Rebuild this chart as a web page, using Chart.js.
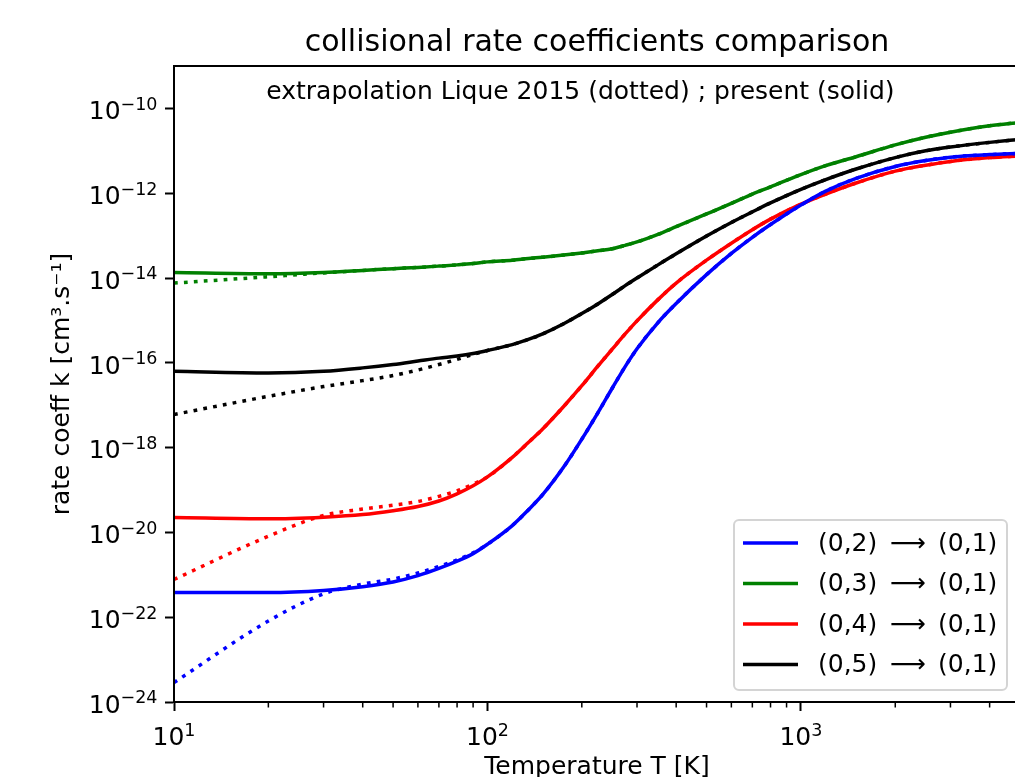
<!DOCTYPE html>
<html><head><meta charset="utf-8">
<script src="https://cdn.jsdelivr.net/npm/chart.js@4.4.0/dist/chart.umd.min.js"></script>
<style>
html,body{margin:0;padding:0;background:#fff;overflow:hidden;}
#wrap{width:1040px;height:777px;}
</style></head><body>
<div id="wrap"><canvas id="c" width="1040" height="777" style="width:1040px;height:777px"></canvas></div>
<script>
// Temperature grid [K]
const temperatures = [10,20,30,40,50,60,70,80,90,100,120,135,150,175,200,225,250,275,300,350,400,500,600,700,800,1000,1200,1500,2000,2500,3000,4000,5000];

// present (solid) rate coefficients [cm3 s-1]
const k02present = [3.80e-22,3.80e-22,4.27e-22,5.25e-22,6.76e-22,9.55e-22,1.41e-21,2.09e-21,3.16e-21,5.25e-21,1.45e-20,3.39e-20,7.76e-20,3.47e-19,1.58e-18,6.61e-18,2.51e-17,8.13e-17,2.14e-16,8.91e-16,2.51e-15,1.20e-14,3.80e-14,9.12e-14,1.82e-13,5.25e-13,1.12e-12,2.24e-12,4.27e-12,5.89e-12,7.08e-12,8.13e-12,8.71e-12];
const k03present = [1.35e-14,1.26e-14,1.35e-14,1.51e-14,1.66e-14,1.78e-14,1.91e-14,2.04e-14,2.19e-14,2.40e-14,2.63e-14,2.88e-14,3.09e-14,3.47e-14,3.89e-14,4.37e-14,4.90e-14,5.89e-14,7.08e-14,1.07e-13,1.62e-13,3.24e-13,5.75e-13,9.55e-13,1.41e-12,2.75e-12,4.47e-12,7.24e-12,1.38e-11,2.09e-11,2.75e-11,3.89e-11,4.68e-11];
const k04present = [2.24e-20,2.09e-20,2.29e-20,2.63e-20,3.24e-20,4.07e-20,5.50e-20,8.13e-20,1.26e-19,2.04e-19,5.89e-19,1.32e-18,2.75e-18,9.33e-18,2.88e-17,8.32e-17,2.09e-16,4.79e-16,9.77e-16,3.09e-15,7.59e-15,2.63e-14,6.61e-14,1.38e-13,2.45e-13,5.50e-13,9.55e-13,1.74e-12,3.31e-12,4.57e-12,5.62e-12,6.92e-12,7.59e-12];
const k05present = [6.31e-17,5.75e-17,6.31e-17,7.59e-17,9.12e-17,1.10e-16,1.29e-16,1.45e-16,1.66e-16,1.95e-16,2.69e-16,3.55e-16,4.79e-16,8.32e-16,1.45e-15,2.45e-15,4.07e-15,6.61e-15,1.00e-14,2.04e-14,3.72e-14,9.77e-14,2.04e-13,3.63e-13,5.89e-13,1.23e-12,2.09e-12,3.72e-12,6.92e-12,1.00e-11,1.23e-11,1.58e-11,1.86e-11];

// extrapolation Lique 2015 (dotted)
const k02lique = [2.88e-24,8.13e-23,3.55e-22,6.03e-22,7.94e-22,1.10e-21,1.58e-21,2.24e-21,3.31e-21,5.25e-21,1.45e-20,3.39e-20,7.76e-20,3.47e-19,1.58e-18,6.61e-18,2.51e-17,8.13e-17,2.14e-16,8.91e-16,2.51e-15,1.20e-14,3.80e-14,9.12e-14,1.82e-13,5.25e-13,1.12e-12,2.24e-12,4.27e-12,5.89e-12,7.08e-12,8.13e-12,8.71e-12];
const k03lique = [7.59e-15,1.07e-14,1.32e-14,1.51e-14,1.66e-14,1.78e-14,1.91e-14,2.04e-14,2.19e-14,2.40e-14,2.63e-14,2.88e-14,3.09e-14,3.47e-14,3.89e-14,4.37e-14,4.90e-14,5.89e-14,7.08e-14,1.07e-13,1.62e-13,3.24e-13,5.75e-13,9.55e-13,1.41e-12,2.75e-12,4.47e-12,7.24e-12,1.38e-11,2.09e-11,2.75e-11,3.89e-11,4.68e-11];
const k04lique = [7.76e-22,8.13e-21,2.51e-20,3.55e-20,4.37e-20,5.37e-20,7.08e-20,9.55e-20,1.38e-19,2.04e-19,5.89e-19,1.32e-18,2.75e-18,9.33e-18,2.88e-17,8.32e-17,2.09e-16,4.79e-16,9.77e-16,3.09e-15,7.59e-15,2.63e-14,6.61e-14,1.38e-13,2.45e-13,5.50e-13,9.55e-13,1.74e-12,3.31e-12,4.57e-12,5.62e-12,6.92e-12,7.59e-12];
const k05lique = [6.03e-18,1.62e-17,2.75e-17,3.80e-17,5.01e-17,6.76e-17,9.12e-17,1.20e-16,1.58e-16,1.95e-16,2.69e-16,3.55e-16,4.79e-16,8.32e-16,1.45e-15,2.45e-15,4.07e-15,6.61e-15,1.00e-14,2.04e-14,3.72e-14,9.77e-14,2.04e-13,3.63e-13,5.89e-13,1.23e-12,2.09e-12,3.72e-12,6.92e-12,1.00e-11,1.23e-11,1.58e-11,1.86e-11];

const seriesLabels = ['(0,2)\u2002\u27F6\u2002(0,1)','(0,3)\u2002\u27F6\u2002(0,1)','(0,4)\u2002\u27F6\u2002(0,1)','(0,5)\u2002\u27F6\u2002(0,1)'];
const seriesColors = ['#0000ff','#008000','#ff0000','#000000'];

// tick labels: base "10" with exponent
const xTickValues = [10,100,1000];
const xTickExponents = ['1','2','3'];
const xMinorTickValues = [20,30,40,50,60,70,80,90,200,300,400,500,600,700,800,900,2000,3000,4000,5000];
const yTickValues = [1e-24,1e-22,1e-20,1e-18,1e-16,1e-14,1e-12,1e-10];
const yTickExponents = ['\u221224','\u221222','\u221220','\u221218','\u221216','\u221214','\u221212','\u221210'];

const titleText = 'collisional rate coefficients comparison';
const xAxisTitle = 'Temperature T [K]';
const yAxisTitle = 'rate coeff k [cm\u00B3.s\u207B\u00B9]';
const annotationText = 'extrapolation Lique 2015 (dotted) ; present (solid)';
const annotationT = 19.7;
const annotationK = 1.68e-10;

const presentSeries = [k02present,k03present,k04present,k05present];
const liqueSeries = [k02lique,k03lique,k04lique,k05lique];

const FONT = '"DejaVu Sans", sans-serif';
Chart.defaults.font.family = FONT;
Chart.defaults.font.size = 25;
Chart.defaults.color = '#000';

const toPoints = arr => temperatures.map((t,i)=>({x:t,y:arr[i]}));

const datasets = [];
presentSeries.forEach((s,i)=>{
  datasets.push({label:seriesLabels[i], inLegend:true, data:toPoints(s), borderColor:seriesColors[i], backgroundColor:seriesColors[i],
    borderWidth:3.5, pointRadius:0, fill:false, cubicInterpolationMode:'monotone', order:10+2*i});
  datasets.push({label:'', inLegend:false, data:toPoints(liqueSeries[i]), borderColor:seriesColors[i], backgroundColor:seriesColors[i],
    borderWidth:3.5, borderDash:[3.75,6.2], borderCapStyle:'butt', pointRadius:0, fill:false, cubicInterpolationMode:'monotone', order:9+2*i});
});

const BASE = 25, SUP = 17.5, RAISE = 9.4;
function drawPower(ctx, exp, xLeft, baseline){
  ctx.font = BASE + 'px ' + FONT;
  ctx.fillText('10', xLeft, baseline);
  const w = ctx.measureText('10').width;
  ctx.font = SUP + 'px ' + FONT;
  ctx.fillText(exp, xLeft + w, baseline - RAISE);
}
function powerWidth(ctx, exp){
  ctx.font = BASE + 'px ' + FONT;
  const w = ctx.measureText('10').width;
  ctx.font = SUP + 'px ' + FONT;
  return w + ctx.measureText(exp).width;
}

const decorations = {
  id:'decorations',
  afterDatasetsDraw(chart){
    const {ctx, chartArea:a} = chart;
    const xs = chart.scales.x, ys = chart.scales.y;
    ctx.save();
    // frame
    ctx.strokeStyle = '#000'; ctx.lineWidth = 2;
    ctx.strokeRect(a.left, a.top, a.right-a.left, a.bottom-a.top);
    // minor x ticks
    ctx.lineWidth = 1.5;
    ctx.beginPath();
    xMinorTickValues.forEach(v=>{
      const px = xs.getPixelForValue(v);
      if (px > a.right + 0.5) return;
      ctx.moveTo(px, a.bottom); ctx.lineTo(px, a.bottom + 5.5);
    });
    ctx.stroke();
    // tick labels
    ctx.fillStyle = '#000'; ctx.textAlign = 'left'; ctx.textBaseline = 'alphabetic';
    xTickValues.forEach((v,i)=>{
      const px = xs.getPixelForValue(v);
      const w = powerWidth(ctx, xTickExponents[i]);
      drawPower(ctx, xTickExponents[i], px - w/2, a.bottom + 43);
    });
    yTickValues.forEach((v,i)=>{
      const py = ys.getPixelForValue(v);
      const w = powerWidth(ctx, yTickExponents[i]);
      drawPower(ctx, yTickExponents[i], a.left - 16.5 - w, py + 10.7);
    });
    // annotation text
    ctx.font = '25px ' + FONT;
    ctx.fillText(annotationText, xs.getPixelForValue(annotationT), ys.getPixelForValue(annotationK));
    // legend box
    const items = chart.data.datasets.filter(d=>d.inLegend);
    const w = 273, h = 170;
    const x0 = a.right - 13 - w, y0 = a.bottom - 12 - h;
    const r = 5;
    ctx.beginPath();
    ctx.moveTo(x0+r, y0); ctx.lineTo(x0+w-r, y0); ctx.arcTo(x0+w, y0, x0+w, y0+r, r);
    ctx.lineTo(x0+w, y0+h-r); ctx.arcTo(x0+w, y0+h, x0+w-r, y0+h, r);
    ctx.lineTo(x0+r, y0+h); ctx.arcTo(x0, y0+h, x0, y0+h-r, r);
    ctx.lineTo(x0, y0+r); ctx.arcTo(x0, y0, x0+r, y0, r);
    ctx.closePath();
    ctx.fillStyle = 'rgba(255,255,255,0.8)'; ctx.fill();
    ctx.strokeStyle = '#d4d4d4'; ctx.lineWidth = 2; ctx.stroke();
    ctx.textBaseline = 'middle';
    ctx.font = '25px ' + FONT;
    items.forEach((d,i)=>{
      const y = y0 + 23 + i*40.5;
      ctx.strokeStyle = d.borderColor; ctx.lineWidth = 3.5; ctx.lineCap = 'butt';
      ctx.beginPath(); ctx.moveTo(x0+9, y); ctx.lineTo(x0+64, y); ctx.stroke();
      ctx.fillStyle = '#000';
      ctx.fillText(d.label, x0+84, y+1);
    });
    ctx.restore();
  }
};

new Chart(document.getElementById('c'), {
  type:'line',
  data:{datasets},
  options:{
    responsive:false, animation:false, devicePixelRatio:1,
    layout:{padding:{left:0,right:20,top:0,bottom:0}},
    plugins:{
      legend:{display:false}, tooltip:{enabled:false},
      title:{display:true, text:titleText, fullSize:false, font:{size:30, weight:'normal'}, color:'#000', padding:{top:25,bottom:5}}
    },
    scales:{
      x:{type:'logarithmic', min:10, max:5000, position:'bottom',
        afterBuildTicks:s=>{ s.ticks = xTickValues.map(v=>({value:v})); },
        afterFit:s=>{ s.height = 75; },
        ticks:{display:false, autoSkip:false, maxRotation:0},
        grid:{display:true, drawOnChartArea:false, drawTicks:true, tickLength:9, tickWidth:2, tickColor:'#000'},
        border:{display:true, color:'#000', width:2},
        title:{display:true, text:xAxisTitle, font:{size:25}, color:'#000', padding:{top:0,bottom:-5}}
      },
      y:{type:'logarithmic', min:1e-24, max:1e-9, position:'left',
        afterBuildTicks:s=>{ s.ticks = yTickValues.map(v=>({value:v})); },
        afterFit:s=>{ s.width = 174; },
        ticks:{display:false, autoSkip:false},
        grid:{display:true, drawOnChartArea:false, drawTicks:true, tickLength:9, tickWidth:2, tickColor:'#000'},
        border:{display:true, color:'#000', width:2},
        title:{display:true, text:yAxisTitle, font:{size:25}, color:'#000', padding:{top:47,bottom:0}}
      }
    }
  },
  plugins:[decorations]
});
</script>
</body></html>
